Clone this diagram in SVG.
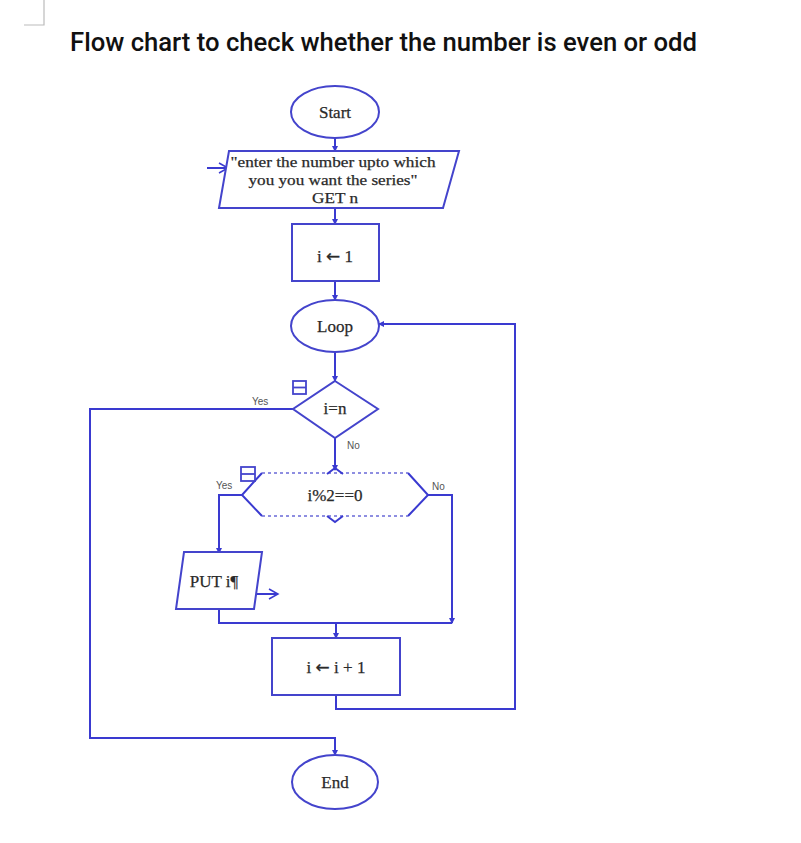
<svg xmlns="http://www.w3.org/2000/svg" width="801" height="843" viewBox="0 0 801 843">
<defs>
<marker id="tip" markerWidth="6" markerHeight="6" refX="5" refY="3" orient="auto" markerUnits="userSpaceOnUse">
<path d="M0,0 L6,3 L0,6 Z" fill="#3a3ad0"/>
</marker>
<marker id="open" markerWidth="12" markerHeight="12" refX="10" refY="6" orient="auto" markerUnits="userSpaceOnUse">
<path d="M1,1 L10,6 L1,11" fill="none" stroke="#3a3ad0" stroke-width="1.5"/>
</marker>
</defs>
<style>
.shape{fill:#fff;stroke:#4444cc;stroke-width:2}
.ln{fill:none;stroke:#3a3ad0;stroke-width:2}
.dash{fill:none;stroke:#6a6ad8;stroke-width:1.5;stroke-dasharray:3,3}
.t{font-family:"Liberation Serif","Times New Roman",serif;font-size:17px;fill:#2a2a2a;text-anchor:middle;stroke:#2a2a2a;stroke-width:0.25}
.pt{font-size:15px}
.ar{font-family:"DejaVu Sans",sans-serif}
.lab{font-family:"Liberation Sans",Arial,sans-serif;font-size:10px;fill:#555}
.icon{fill:none;stroke:#4444cc;stroke-width:1.8}
</style>
<rect width="801" height="843" fill="#fff"/>
<path d="M24,25 H44 V0" fill="none" stroke="#bbb" stroke-width="1.2"/>
<text x="70" y="51" font-family="Roboto,'Liberation Sans',sans-serif" font-size="25" font-weight="500" fill="#111" textLength="627" lengthAdjust="spacingAndGlyphs">Flow chart to check whether the number is even or odd</text>

<g id="connectors">
<line class="ln" x1="335" y1="138" x2="335" y2="151" marker-end="url(#tip)"/>
<line class="ln" x1="207" y1="168" x2="228" y2="168" marker-end="url(#open)"/>
<line class="ln" x1="335" y1="208" x2="335" y2="224" marker-end="url(#tip)"/>
<line class="ln" x1="335" y1="281" x2="335" y2="300" marker-end="url(#tip)"/>
<line class="ln" x1="335" y1="352" x2="335" y2="381" marker-end="url(#tip)"/>
<polyline class="ln" points="293,409 90,409 90,738 335,738 335,755" marker-end="url(#tip)"/>
<line class="ln" x1="335" y1="438" x2="335" y2="470" marker-end="url(#tip)"/>
<polyline class="ln" points="242,495 219,495 219,553" marker-end="url(#tip)"/>
<polyline class="ln" points="428,495 452,495 452,623" marker-end="url(#tip)"/>
<line class="ln" x1="256" y1="594" x2="278" y2="594" marker-end="url(#open)"/>
<polyline class="ln" points="219,609 219,623 452,623"/>
<line class="ln" x1="336" y1="623" x2="336" y2="638" marker-end="url(#tip)"/>
<polyline class="ln" points="336,695 336,709 515,709 515,324 379,324" marker-end="url(#tip)"/>
</g>

<g id="start">
<ellipse class="shape" cx="335" cy="112" rx="44" ry="26"/>
<text class="t" x="335" y="118" font-size="16">Start</text>
</g>

<g id="input">
<polygon class="shape" points="229,151 459,151 443,208 219,208"/>
<text class="t pt" x="333" y="167" textLength="205" lengthAdjust="spacingAndGlyphs">"enter the number upto which</text>
<text class="t pt" x="333" y="185" textLength="169" lengthAdjust="spacingAndGlyphs">you you want the series"</text>
<text class="t pt" x="335" y="203" textLength="46" lengthAdjust="spacingAndGlyphs">GET n</text>
</g>

<g id="init">
<rect class="shape" x="292" y="224" width="87" height="57"/>
<text class="t" x="335" y="262">i <tspan class="ar">←</tspan> 1</text>
</g>

<g id="loop">
<ellipse class="shape" cx="335" cy="326" rx="44" ry="26"/>
<text class="t" x="335" y="332" font-size="18">Loop</text>
</g>

<g id="cond1">
<polygon class="shape" points="335,381 378,409 335,438 293,409"/>
<text class="t" x="335" y="414" font-size="13">i=n</text>
<rect class="icon" x="293" y="381" width="13" height="13"/>
<line class="icon" x1="293" y1="387.5" x2="306" y2="387.5"/>
<text class="lab" x="252" y="405">Yes</text>
<text class="lab" x="347" y="449">No</text>
</g>

<g id="cond2">
<path class="ln" d="M262,473 L242,495 L262,516 M408,473 L428,495 L408,516" stroke="#6a6ad8"/>
<path class="dash" d="M262,473 H408 M262,516 H408"/>
<path class="ln" stroke-width="1.5" stroke="#6a6ad8" d="M327,474 L335,468 L343,474 M327,516 L335,522 L343,516"/>
<text class="t" x="335" y="501" font-size="14">i%2==0</text>
<rect class="icon" x="241" y="467" width="14" height="14"/>
<line class="icon" x1="241" y1="474" x2="255" y2="474"/>
<text class="lab" x="216" y="489">Yes</text>
<text class="lab" x="432" y="490">No</text>
</g>

<g id="put">
<polygon class="shape" points="184,552 262,552 254,609 176,609"/>
<text class="t" x="214" y="587">PUT i¶</text>
</g>

<g id="incr">
<rect class="shape" x="272" y="638" width="128" height="57"/>
<text class="t" x="336" y="673">i <tspan class="ar">←</tspan> i + 1</text>
</g>

<g id="end">
<ellipse class="shape" cx="335" cy="782" rx="43" ry="27"/>
<text class="t" x="335" y="788" font-size="18">End</text>
</g>
</svg>
